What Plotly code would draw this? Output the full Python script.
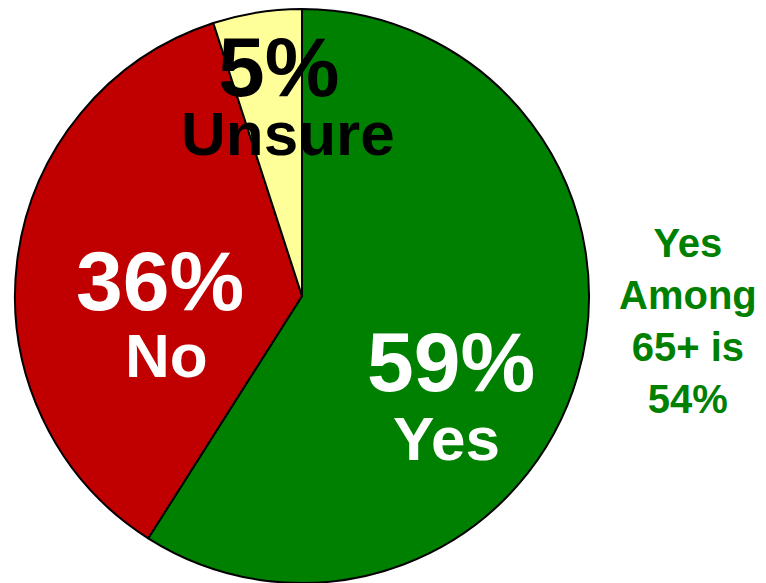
import plotly.graph_objects as go

categories = ["Yes", "No", "Unsure"]
values = [59, 36, 5]
colors = ["#008000", "#C00000", "#FFFF99"]
note_lines = ["Yes", "Among", "65+ is", "54%"]

W, H = 766, 583
cx, cy, r = 302, 296, 287

fig = go.Figure(go.Pie(
    labels=categories, values=values, sort=False, direction="clockwise",
    rotation=0, textinfo="none", hoverinfo="label+percent",
    marker=dict(colors=colors, line=dict(color="black", width=2)),
    domain=dict(x=[(cx - r) / W, (cx + r) / W], y=[1 - (cy + r) / H, 1 - (cy - r) / H]),
    showlegend=False,
))

FONT = "Arial, Liberation Sans, sans-serif"
# label placement (pixel positions) per category: (pct center, name center, color)
label_pos = {
    "Yes": ((451, 362), (446, 438), "white"),
    "No": ((160, 281), (166, 355), "white"),
    "Unsure": ((278, 67), (288, 133), "black"),
}
for cat, val in zip(categories, values):
    (px, py), (nx, ny), col = label_pos[cat]
    fig.add_annotation(x=px / W, y=1 - py / H, xref="paper", yref="paper",
                       text=f"{val}%", showarrow=False, xanchor="center", yanchor="middle",
                       font=dict(family=FONT, size=84, color=col, weight="bold"))
    fig.add_annotation(x=nx / W, y=1 - ny / H, xref="paper", yref="paper",
                       text=cat, showarrow=False, xanchor="center", yanchor="middle",
                       font=dict(family=FONT, size=62, color=col, weight="bold"))

fig.add_annotation(x=688 / W, y=1 - 321 / H, xref="paper", yref="paper",
                   text="<br>".join(note_lines), showarrow=False, xanchor="center", yanchor="middle",
                   align="center",
                   font=dict(family=FONT, size=40, color="#008000", weight="bold"))

fig.update_layout(width=W, height=H, margin=dict(l=0, r=0, t=0, b=0),
                  paper_bgcolor="white", plot_bgcolor="white")
fig.write_html("out.html")
